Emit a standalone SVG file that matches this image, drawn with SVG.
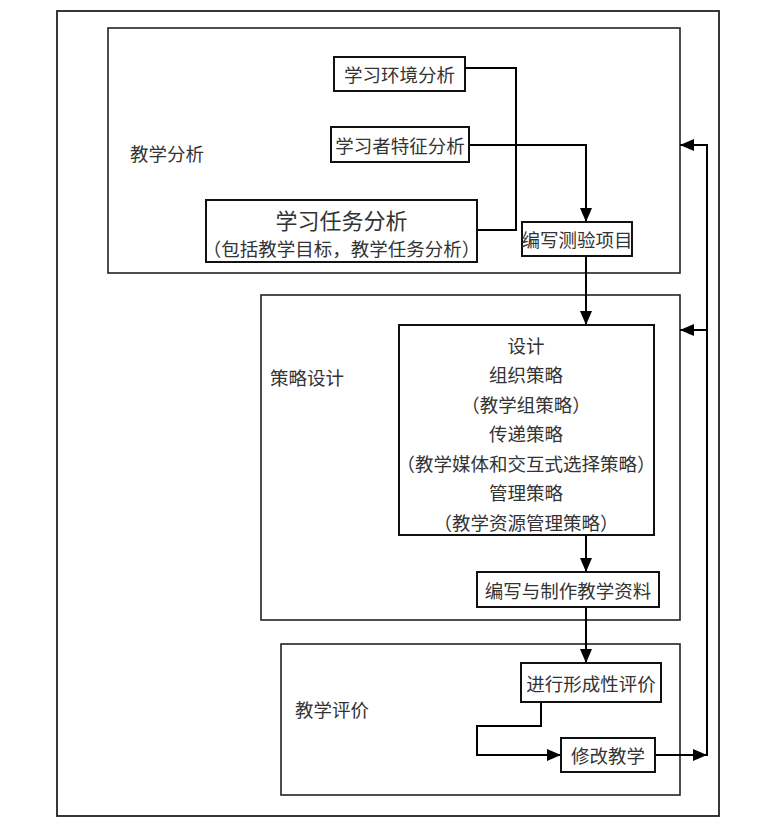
<svg xmlns="http://www.w3.org/2000/svg" width="777" height="834" viewBox="0 0 777 834">
<defs>
<marker id="ah" viewBox="0 0 14 12" refX="14" refY="6" markerWidth="14" markerHeight="12" markerUnits="userSpaceOnUse" orient="auto">
<path d="M0,0 L14,6 L0,12 z" fill="#000"/>
</marker>
<style>
.frame{fill:none;stroke:#222;stroke-width:1.8}
.sec{fill:none;stroke:#222;stroke-width:1.6}
.box{fill:#fff;stroke:#111;stroke-width:2}
.t{font-family:"Noto Sans CJK SC","Noto Sans",sans-serif;font-size:18.5px;fill:#333;text-anchor:middle;dominant-baseline:central}
.lbl{font-family:"Noto Sans CJK SC","Noto Sans",sans-serif;font-size:18.5px;fill:#333;dominant-baseline:central}
.c{fill:none;stroke:#000;stroke-width:2}
.ca{fill:none;stroke:#000;stroke-width:2;marker-end:url(#ah)}
</style>
</defs>
<rect width="777" height="834" fill="#fff"/>
<rect id="outer" class="frame" x="57" y="11" width="662" height="805"/>
<g id="sec1"><rect class="sec" x="108" y="28" width="572" height="245"/><text class="lbl" x="130" y="153">教学分析</text></g>
<g id="sec2"><rect class="sec" x="261" y="295" width="419" height="325"/><text class="lbl" x="270" y="377">策略设计</text></g>
<g id="sec3"><rect class="sec" x="281" y="644" width="399" height="151"/><text class="lbl" x="295" y="709">教学评价</text></g>
<g id="connectors">
<polyline class="c" points="465,68 516,68 516,230 477,230"/>
<polyline class="ca" points="469,145 586,145 586,222"/>
<line class="ca" x1="586" y1="256" x2="586" y2="325"/>
<line class="ca" x1="586" y1="535" x2="586" y2="572"/>
<line class="ca" x1="586" y1="607" x2="586" y2="663"/>
<polyline class="ca" points="541,702 541,726 477,726 477,755 561,755"/>
<line class="ca" x1="655" y1="755" x2="707" y2="755"/>
<line class="c" x1="707" y1="144" x2="707" y2="756"/>
<line class="ca" x1="708" y1="145" x2="680" y2="145"/>
<line class="ca" x1="708" y1="330" x2="680" y2="330"/>
</g>
<g id="env"><rect class="box" x="334" y="57" width="131" height="34"/><text class="t" x="399.5" y="74">学习环境分析</text></g>
<g id="learner"><rect class="box" x="331" y="127" width="138" height="35"/><text class="t" x="400" y="144.5">学习者特征分析</text></g>
<g id="task"><rect class="box" x="206" y="200" width="271" height="62"/><text class="t" x="341.5" y="219" style="font-size:22px">学习任务分析</text><text class="t" x="341.5" y="248">（包括教学目标，教学任务分析）</text></g>
<g id="test"><rect class="box" x="522" y="222" width="110" height="34"/><text class="t" x="577" y="239">编写测验项目</text></g>
<g id="design"><rect class="box" x="399" y="325" width="255" height="210"/>
<text class="t" x="526" y="345">设计</text>
<text class="t" x="526" y="374">组织策略</text>
<text class="t" x="526" y="404">（教学组策略）</text>
<text class="t" x="526" y="433">传递策略</text>
<text class="t" x="526" y="463">（教学媒体和交互式选择策略）</text>
<text class="t" x="526" y="492">管理策略</text>
<text class="t" x="526" y="522">（教学资源管理策略）</text>
</g>
<g id="material"><rect class="box" x="477" y="572" width="182" height="35"/><text class="t" x="568" y="589.5">编写与制作教学资料</text></g>
<g id="formative"><rect class="box" x="521" y="663" width="140" height="39"/><text class="t" x="591" y="682.5">进行形成性评价</text></g>
<g id="revise"><rect class="box" x="561" y="738" width="94" height="34"/><text class="t" x="608" y="755">修改教学</text></g>
</svg>
